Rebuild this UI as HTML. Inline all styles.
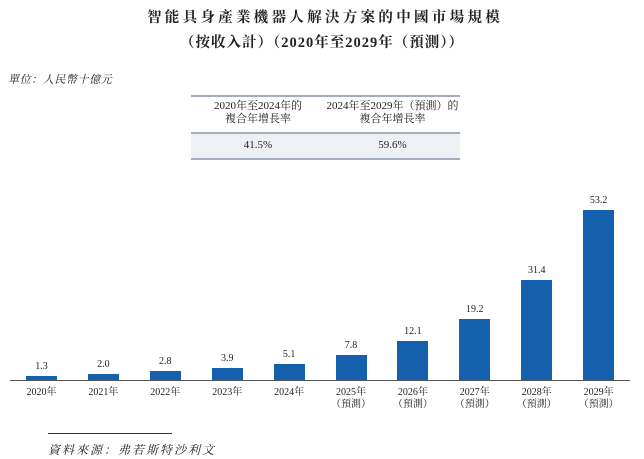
<!DOCTYPE html>
<html><head><meta charset="utf-8"><style>
body{margin:0;width:644px;height:459px;background:#fff;font-family:"Liberation Serif","Noto Serif CJK SC",serif;color:#222;position:relative;overflow:hidden}
.a{position:absolute;white-space:nowrap}
.t{font-weight:bold;font-size:14.5px;left:0;width:644px;text-align:center;letter-spacing:1px}
.bar{position:absolute;background:#1560ad;width:31px}
.v{position:absolute;font-size:10px;width:60px;text-align:center}
.x{position:absolute;font-size:10px;width:60px;text-align:center;line-height:12px}
</style></head><body>
<div class="a t" style="top:6px;letter-spacing:3.3px;padding-left:3px">智能具身產業機器人解決方案的中國市場規模</div>
<div class="a t" style="top:31px">（按收入計）（2020年至2029年（預測））</div>
<div class="a" style="top:71px;left:8px;font-size:11px;font-style:italic;letter-spacing:0.6px">單位：人民幣十億元</div>
<div class="a" style="left:191px;top:95px;width:269px;height:2px;background:#a3adbf"></div>
<div class="a" style="left:191px;top:100px;width:134px;text-align:center;font-size:11px;line-height:13px">2020年至2024年的<br>複合年增長率</div>
<div class="a" style="left:325px;top:100px;width:135px;text-align:center;font-size:11px;line-height:13px">2024年至2029年（預測）的<br>複合年增長率</div>
<div class="a" style="left:191px;top:132px;width:269px;height:2px;background:#a3adbf"></div>
<div class="a" style="left:191px;top:134px;width:269px;height:24px;background:#eef0f4"></div>
<div class="a" style="left:191px;top:139px;width:134px;text-align:center;font-size:11px">41.5%</div>
<div class="a" style="left:325px;top:139px;width:135px;text-align:center;font-size:11px">59.6%</div>
<div class="a" style="left:191px;top:158px;width:269px;height:2px;background:#a3adbf"></div>
<div class="a" style="left:10px;top:380px;width:620px;height:1px;background:#555"></div>
<div id="c"></div>
<div class="a" style="left:48px;top:433px;width:124px;height:1px;background:#333"></div>
<div class="a" style="left:48px;top:441px;font-size:12px;font-style:italic;letter-spacing:2px">資料來源：弗若斯特沙利文</div>
<script>
var d=[1.3,2.0,2.8,3.9,5.1,7.8,12.1,19.2,31.4,53.2],h='';
for(var i=0;i<10;i++){var cx=41.5+i*61.9,hh=d[i]*3.2,y=380-hh;
h+='<div class="bar" style="left:'+(cx-15.5)+'px;top:'+y+'px;height:'+hh+'px"></div>';
h+='<div class="v" style="left:'+(cx-30)+'px;top:'+(y-15)+'px">'+d[i].toFixed(1)+'</div>';
h+='<div class="x" style="left:'+(cx-30)+'px;top:387px">'+(2020+i)+'年'+(i>4?'<br>（預測）':'')+'</div>';}
document.getElementById('c').innerHTML=h;
</script>
</body></html>
